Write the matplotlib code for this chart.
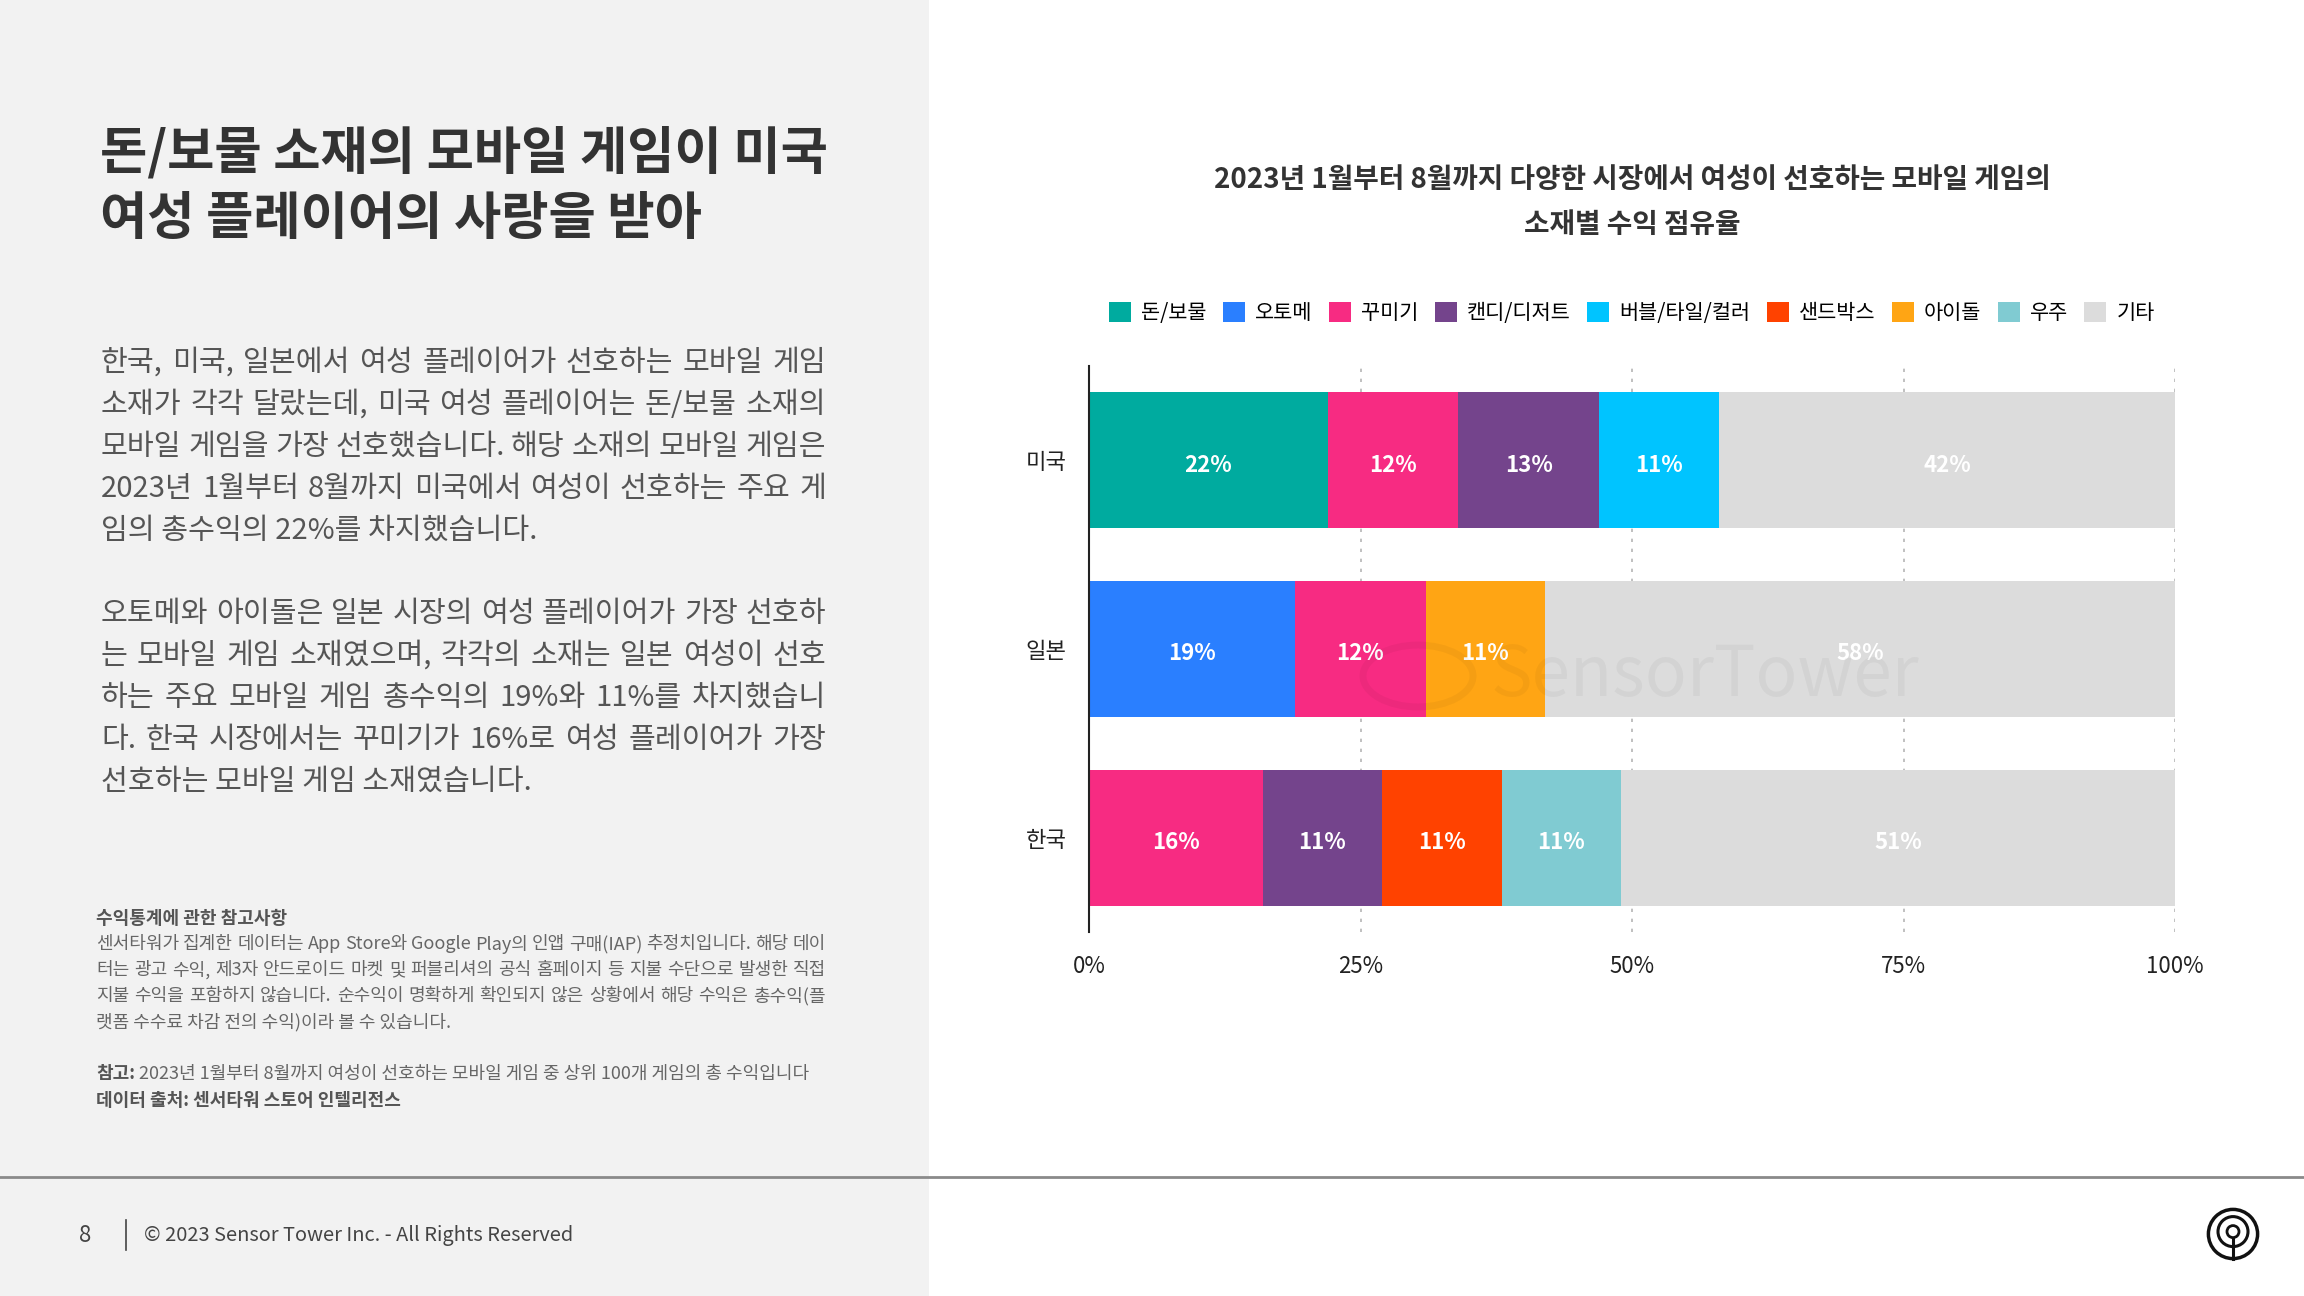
import matplotlib
matplotlib.use("Agg")
import matplotlib.pyplot as plt
from matplotlib.patches import Rectangle, Circle

plt.rcParams['font.family'] = ['Noto Sans CJK KR', 'DejaVu Sans']

# --- données ---
pays = ["미국", "일본", "한국"]
categories = ["돈/보물", "오토메", "꾸미기", "캔디/디저트", "버블/타일/컬러",
              "샌드박스", "아이돌", "우주", "기타"]
couleurs = ["#00ab9f", "#2a7fff", "#f72b82", "#74448c", "#00c4ff",
            "#ff4200", "#ffa514", "#80cbd2", "#dcdcdc"]
# part (%) de chaque catégorie par pays, 0 = absent
parts = {
    "돈/보물":        [22, 0, 0],
    "오토메":         [0, 19, 0],
    "꾸미기":         [12, 12, 16],
    "캔디/디저트":    [13, 0, 11],
    "버블/타일/컬러": [11, 0, 0],
    "샌드박스":       [0, 0, 11],
    "아이돌":         [0, 11, 0],
    "우주":           [0, 0, 11],
    "기타":           [42, 58, 51],
}
xticks = [0, 25, 50, 75, 100]
xtick_labels = ["0%", "25%", "50%", "75%", "100%"]

titre = "돈/보물 소재의 모바일 게임이 미국\n여성 플레이어의 사랑을 받아"
para1 = ["한국, 미국, 일본에서 여성 플레이어가 선호하는 모바일 게임",
         "소재가 각각 달랐는데, 미국 여성 플레이어는 돈/보물 소재의",
         "모바일 게임을 가장 선호했습니다. 해당 소재의 모바일 게임은",
         "2023년 1월부터 8월까지 미국에서 여성이 선호하는 주요 게",
         "임의 총수익의 22%를 차지했습니다."]
para2 = ["오토메와 아이돌은 일본 시장의 여성 플레이어가 가장 선호하",
         "는 모바일 게임 소재였으며, 각각의 소재는 일본 여성이 선호",
         "하는 주요 모바일 게임 총수익의 19%와 11%를 차지했습니",
         "다. 한국 시장에서는 꾸미기가 16%로 여성 플레이어가 가장",
         "선호하는 모바일 게임 소재였습니다."]
note = ["센서타워가 집계한 데이터는 App Store와 Google Play의 인앱 구매(IAP) 추정치입니다. 해당 데이",
        "터는 광고 수익, 제3자 안드로이드 마켓 및 퍼블리셔의 공식 홈페이지 등 지불 수단으로 발생한 직접",
        "지불 수익을 포함하지 않습니다. 순수익이 명확하게 확인되지 않은 상황에서 해당 수익은 총수익(플",
        "랫폼 수수료 차감 전의 수익)이라 볼 수 있습니다."]

W, H = 2304, 1296
fig = plt.figure(figsize=(W / 100, H / 100), dpi=100)
fig.patch.set_facecolor("white")
renderer = fig.canvas.get_renderer()

def fx(x):
    return x / W

def fy(y):
    return 1 - y / H

def ligne_justifiee(ligne, x0, x1, y, **kw):
    # place chaque mot pour aligner la ligne à gauche et à droite
    mots = ligne.split(" ")
    textes, largeurs = [], []
    for m in mots:
        t = fig.text(0, 0, m, va="center", **kw)
        textes.append(t)
        largeurs.append(t.get_window_extent(renderer).width)
    ecart = (x1 - x0 - sum(largeurs)) / max(len(mots) - 1, 1)
    x = x0
    for t, l in zip(textes, largeurs):
        t.set_position((fx(x), fy(y)))
        x += l + ecart

# fond gris du panneau gauche
fig.add_artist(Rectangle((0, 0), fx(929), 1, transform=fig.transFigure,
                         facecolor="#f2f2f2", edgecolor="none", zorder=0))
# ligne de séparation du pied de page
fig.add_artist(plt.Line2D([0, 1], [fy(1177), fy(1177)], transform=fig.transFigure,
                          color="#8a8a8a", lw=2, zorder=1))

# --- texte gauche ---
fig.text(fx(100), fy(126), titre, fontsize=37, fontweight="bold", color="#333333",
         va="top", linespacing=1.3)

for i, ligne in enumerate(para1):
    y = 363 + i * 42
    if i < len(para1) - 1:
        ligne_justifiee(ligne, 101, 826, y, fontsize=21, color="#555555")
    else:
        fig.text(fx(101), fy(y), ligne, fontsize=21, color="#555555", va="center")
for i, ligne in enumerate(para2):
    y = 614 + i * 42
    if i < len(para2) - 1:
        ligne_justifiee(ligne, 101, 826, y, fontsize=21, color="#555555")
    else:
        fig.text(fx(101), fy(y), ligne, fontsize=21, color="#555555", va="center")

fig.text(fx(96), fy(918), "수익통계에 관한 참고사항", fontsize=13, fontweight="bold",
         color="#555555", va="center")
for i, ligne in enumerate(note):
    y = 944 + i * 26
    if i < len(note) - 1:
        ligne_justifiee(ligne, 96, 826, y, fontsize=13, color="#666666")
    else:
        fig.text(fx(96), fy(y), ligne, fontsize=13, color="#666666", va="center")
fig.text(fx(96), fy(1074), "참고:", fontsize=13, fontweight="bold", color="#555555", va="center")
fig.text(fx(139), fy(1074), "2023년 1월부터 8월까지 여성이 선호하는 모바일 게임 중 상위 100개 게임의 총 수익입니다",
         fontsize=13, color="#666666", va="center")
fig.text(fx(96), fy(1100), "데이터 출처: 센서타워 스토어 인텔리전스", fontsize=13,
         fontweight="bold", color="#555555", va="center")

# pied de page
fig.text(fx(85), fy(1236), "8", fontsize=16, color="#444444", ha="center", va="center")
fig.add_artist(plt.Line2D([fx(126), fx(126)], [fy(1220), fy(1250)], transform=fig.transFigure,
                          color="#444444", lw=1.2))
fig.text(fx(144), fy(1236), "© 2023 Sensor Tower Inc. - All Rights Reserved", fontsize=14.4,
         color="#444444", va="center")

# logo
logo = fig.add_axes([fx(2233 - 30), fy(1234 + 30), 60 / W, 60 / H])
logo.set_xlim(-1, 1)
logo.set_ylim(-1, 1)
logo.set_aspect("equal")
logo.axis("off")
logo.add_patch(Circle((0, 0), 0.82, fill=False, lw=2.5, color="#111111"))
logo.add_patch(Circle((0, 0.08), 0.5, fill=False, lw=2.2, color="#111111"))
logo.add_patch(Circle((0, 0.08), 0.2, fill=False, lw=2, color="#111111"))
logo.plot([0, 0], [-0.12, -0.82], color="#111111", lw=2.2)

# --- graphique ---
fig.text(fx(1632), fy(180), "2023년 1월부터 8월까지 다양한 시장에서 여성이 선호하는 모바일 게임의",
         fontsize=20, fontweight="bold", color="#333333", ha="center", va="center")
fig.text(fx(1632), fy(225), "소재별 수익 점유율", fontsize=20, fontweight="bold",
         color="#333333", ha="center", va="center")

ax = fig.add_axes([fx(1089), fy(932), (2175 - 1089) / W, (932 - 366) / H])
ax.set_facecolor("none")

gauche = [0, 0, 0]
for cat, coul in zip(categories, couleurs):
    vals = parts[cat]
    ax.barh(pays, vals, left=gauche, height=0.72, color=coul, label=cat, zorder=3)
    for j, v in enumerate(vals):
        if v > 0:
            ax.text(gauche[j] + v / 2, j + 0.025, f"{v}%", ha="center", va="center",
                    color="white", fontsize=16, fontweight="bold", zorder=4)
    gauche = [g + v for g, v in zip(gauche, vals)]

ax.set_xlim(0, 100)
ax.set_ylim(2.5, -0.5)
ax.set_xticks(xticks)
ax.set_xticklabels(xtick_labels)
for xv in xticks[1:]:
    ax.axvline(xv, color="#b5b5b5", lw=1.2, ls=(0, (2, 4)), zorder=1)
for s in ["top", "right", "bottom"]:
    ax.spines[s].set_visible(False)
ax.spines["left"].set_color("#222222")
ax.spines["left"].set_linewidth(1.5)
ax.spines["left"].set_zorder(5)
ax.tick_params(axis="both", length=0, labelsize=16, colors="#222222")
ax.tick_params(axis="x", pad=16.5)
ax.tick_params(axis="y", pad=16)

# filigrane
fig.text(fx(1705), fy(676), "SensorTower", fontsize=50, color="#000000", alpha=0.04,
         ha="center", va="center", zorder=10)
fig.add_artist(Circle((fx(1418), fy(676)), 55 / W, transform=fig.transFigure, fill=False,
                      lw=5, edgecolor="#000000", alpha=0.04, zorder=10))

fig.legend(loc="center", bbox_to_anchor=(fx(1632), fy(313)), ncol=9, frameon=False,
           fontsize=15, handlelength=1.05, handleheight=1.05, handletextpad=0.5,
           columnspacing=0.78)

fig.savefig("out.png", dpi=100)
